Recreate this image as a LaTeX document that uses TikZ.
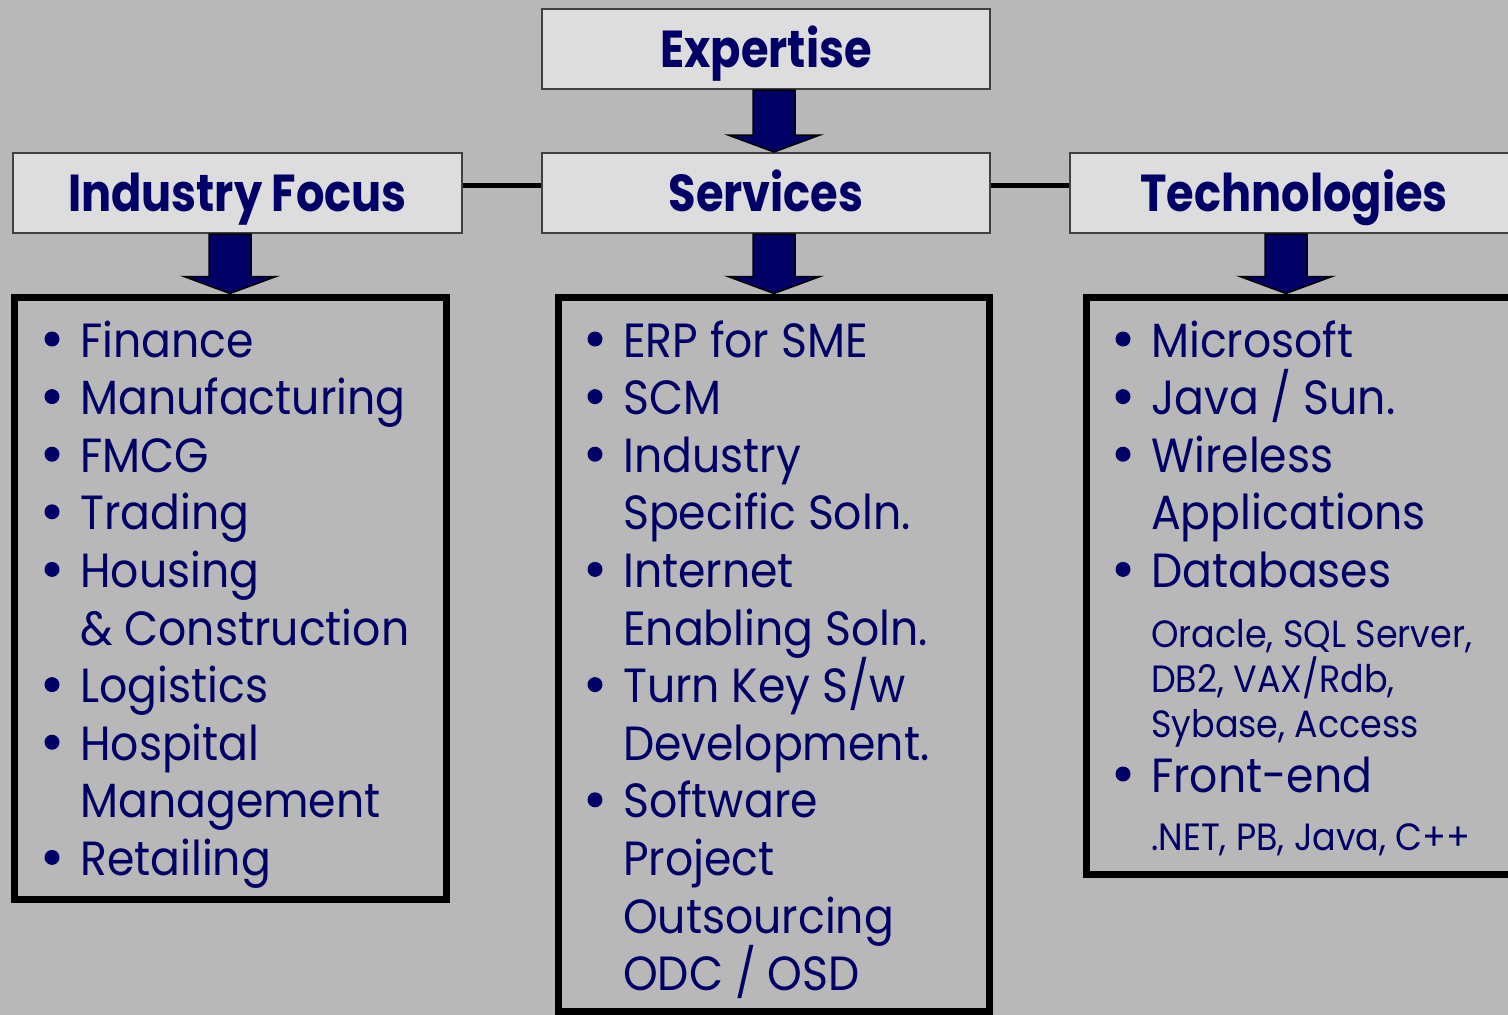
\documentclass[tikz,border=0pt]{standalone}
\usepackage{fontspec}
\setmainfont{Poppins}[FakeStretch=0.92]
\newfontfamily\headfont{Poppins}[FakeStretch=0.86]
\usetikzlibrary{calc}

\definecolor{navy}{RGB}{0,0,102}
\definecolor{bggray}{RGB}{184,184,184}
\definecolor{headgray}{RGB}{221,221,221}

\tikzset{
    head/.style={draw=black!75, line width=2pt, fill=headgray, minimum width=448pt,
        minimum height=80pt, text height=37pt, text depth=0pt, text=navy,
        font=\headfont\bfseries\fontsize{52}{60}\selectfont},
    listbox/.style={draw=black, line width=7pt},
    item/.style={anchor=base west, inner sep=0pt, text=navy, font=\fontsize{48}{52}\selectfont},
    subitem/.style={item, font=\fontsize{38}{42}\selectfont},
    bigarrow/.style={fill=navy, draw=black, line width=1.5pt},
    link/.style={line width=5pt}
}

% block arrow from #1 down to #2 (same x)
\newcommand{\blockarrow}[2]{%
    \draw[bigarrow] ($(#1)+(-21,0)$) -- ($(#2)+(-21,-17)$) -- ($(#2)+(-46,-17)$) -- (#2)
        -- ($(#2)+(46,-17)$) -- ($(#2)+(21,-17)$) -- ($(#1)+(21,0)$) -- cycle;}
% bullet in front of a list line
\newcommand{\bulletfor}[1]{\fill[navy] ($(#1.base west)+(-28,-18)$) circle (7.5pt);}

\begin{document}
\begin{tikzpicture}[x=1pt, y=-1pt]
    \useasboundingbox[fill=bggray] (0,0) rectangle (1508,1015);

    % headers
    \node[head] (exp) at (766,49) {Expertise};
    \node[head] (srv) at (766,193) {Services};
    \node[head, minimum width=449pt] (ind) at (237.5,193) {Industry Focus};
    \node[head] (tech) at (1294,193) {Technologies};

    \draw[link] ([yshift=8pt]ind.east) -- ([yshift=8pt]srv.west);
    \draw[link] ([yshift=8pt]srv.east) -- ([yshift=8pt]tech.west);

    % list boxes
    \node[listbox, minimum width=432pt, minimum height=602pt] (indbox) at (230,598) {};
    \node[listbox, minimum width=431pt, minimum height=714pt] (srvbox) at (773.5,654) {};
    \node[listbox, minimum width=432pt, minimum height=577pt] (techbox) at (1302,585.5) {};

    % arrows
    \coordinate (a0) at ([xshift=8pt]exp.south);
    \blockarrow{a0}{a0 |- srv.north}
    \coordinate (a1) at ([xshift=-7.5pt]ind.south);
    \blockarrow{a1}{a1 |- indbox.north}
    \coordinate (a2) at ([xshift=8pt]srv.south);
    \blockarrow{a2}{a2 |- srvbox.north}
    \coordinate (a3) at ([xshift=-8pt]tech.south);
    \blockarrow{a3}{a3 |- techbox.north}

    % industry list
    \foreach \b/\t [count=\i] in {1/Finance, 1/Manufacturing, 1/FMCG, 1/Trading, 1/Housing,
        0/\& Construction, 1/Logistics, 1/Hospital, 0/Management, 1/Retailing} {
        \node[item] (ind\i) at (80,357+57.6*\i-57.6) {\t};
        \ifnum\b=1 \bulletfor{ind\i} \fi
    }

    % services list
    \foreach \b/\t [count=\i] in {1/ERP for SME, 1/SCM, 1/Industry, 0/Specific Soln.,
        1/Internet, 0/Enabling Soln., 1/{Turn Key S/w}, 0/Development., 1/Software,
        0/Project, 0/Outsourcing, 0/{ODC / OSD}} {
        \node[item] (srv\i) at (623,357+57.6*\i-57.6) {\t};
        \ifnum\b=1 \bulletfor{srv\i} \fi
    }

    % technologies list
    \foreach \y/\t [count=\i] in {357/Microsoft, 414.6/{Java / Sun.}, 472.2/Wireless,
        529.8/Applications, 587.4/Databases, 792/Front-end} {
        \node[item] (tech\i) at (1151,\y) {\t};
        \ifnum\i=4 \else \bulletfor{tech\i} \fi
    }
    \foreach \y/\t [count=\i] in {647/{Oracle, SQL Server,}, 692/{DB2, VAX/Rdb,},
        737/{Sybase, Access}, 850/{.NET, PB, Java, C++}}
        \node[subitem] (techsub\i) at (1151,\y) {\t};
\end{tikzpicture}
\end{document}
